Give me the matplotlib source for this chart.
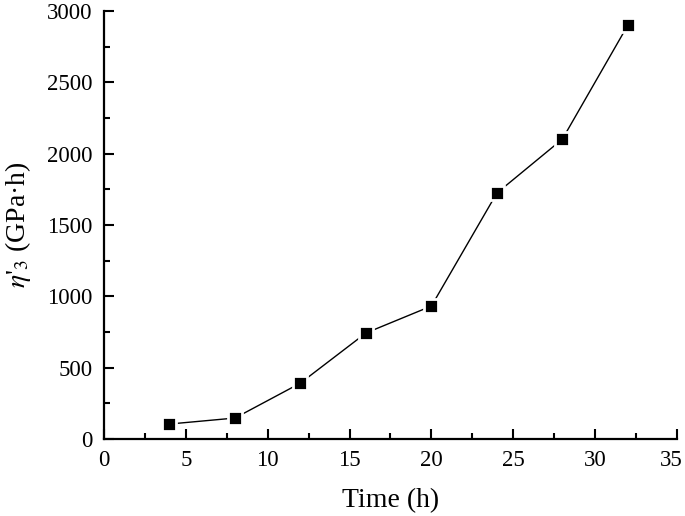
import matplotlib
matplotlib.use("Agg")
import matplotlib.pyplot as plt
from matplotlib.ticker import MultipleLocator, FuncFormatter

time_h = [4, 8, 12, 16, 20, 24, 28, 32]
eta3 = [105, 147, 392, 743, 932, 1724, 2102, 2901]
x_max = 35

plt.rcParams['font.family'] = ['Liberation Serif', 'DejaVu Serif']
plt.rcParams['mathtext.fontset'] = 'stix'

fig = plt.figure(figsize=(6.85, 5.16), dpi=100)
ax = fig.add_axes([0.1518, 0.1492, 0.8365, 0.8295])

ax.plot(time_h, eta3, color='black', lw=1.0, marker='s', ms=10.5,
        markerfacecolor='black', markeredgecolor='white', mew=2.0, zorder=3,
        clip_on=False)

ax.set_xlim(0, x_max)
ax.set_ylim(0, 3000)
ax.xaxis.set_major_locator(MultipleLocator(5))
ax.xaxis.set_minor_locator(MultipleLocator(2.5))
ax.yaxis.set_major_locator(MultipleLocator(500))
ax.yaxis.set_minor_locator(MultipleLocator(250))
# last x label drawn separately, nudged so it stays inside the image
ax.xaxis.set_major_formatter(FuncFormatter(lambda v, p: '' if abs(v - x_max) < 1e-9 else f'{v:g}'))

for s in ['top', 'right']:
    ax.spines[s].set_visible(False)
for s in ['left', 'bottom']:
    ax.spines[s].set_linewidth(1.6)

ax.tick_params(which='both', direction='in', width=1.5, labelsize=16.5)
ax.tick_params(which='major', length=7, pad=8)
ax.tick_params(which='minor', length=4)

ax.annotate(f'{x_max:g}', xy=(x_max, 0), xycoords='data',
            xytext=(-4, -8), textcoords='offset points',
            ha='center', va='top', fontsize=16.5)

ax.set_xlabel('Time (h)', fontsize=20, labelpad=12)
ax.set_ylabel(r"$\eta$'$_{3}$ (GPa·h)", fontsize=20, labelpad=10)

fig.savefig('out.png', dpi=100)
